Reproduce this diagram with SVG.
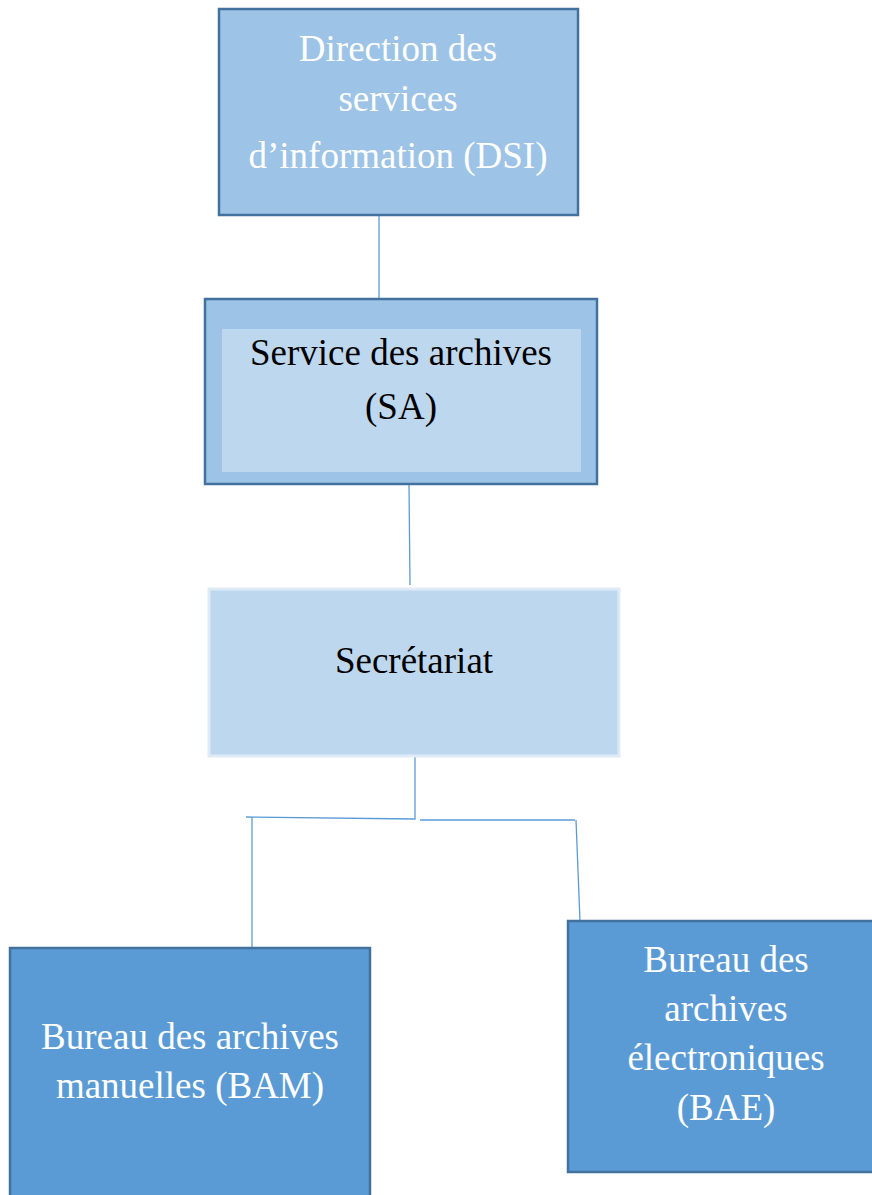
<svg xmlns="http://www.w3.org/2000/svg" width="872" height="1195" viewBox="0 0 872 1195">
<style>
text{font-family:"Liberation Serif","Times New Roman",serif;font-size:37px;text-anchor:middle}
.w{fill:#ffffff}
.k{fill:#000000}
.mid{fill:#9DC3E6;stroke:#41719C;stroke-width:2.5}
.dark{fill:#5B9BD5;stroke:#41719C;stroke-width:2.5}
.light{fill:#BDD7EE;stroke:#DEEBF7;stroke-width:3}
.c{fill:none;stroke:#5B9BD5;stroke-width:1.3}
</style>
<rect width="872" height="1195" fill="#ffffff"/>
<g id="connectors">
<line class="c" x1="379" y1="215" x2="379" y2="299"/>
<line class="c" x1="409" y1="484" x2="410" y2="585"/>
<polyline class="c" points="415,756 415,819 246,817"/>
<line class="c" x1="420" y1="820" x2="575" y2="820"/>
<line class="c" x1="576" y1="820" x2="580" y2="921"/>
<line class="c" x1="252" y1="817" x2="252" y2="948"/>
</g>
<g id="dsi">
<rect class="mid" x="219" y="9" width="359" height="206"/>
<text class="w" x="398" y="61">Direction des</text>
<text class="w" x="398" y="111">services</text>
<text class="w" x="398" y="168">d’information (DSI)</text>
</g>
<g id="sa">
<rect class="mid" x="205" y="299" width="392" height="185"/>
<rect x="222" y="329" width="359" height="143" fill="#BDD7EE"/>
<text class="k" x="401" y="365">Service des archives</text>
<text class="k" x="401" y="419">(SA)</text>
</g>
<g id="secretariat">
<rect class="light" x="209" y="589" width="410" height="167"/>
<text class="k" x="414" y="673">Secrétariat</text>
</g>
<g id="bam">
<rect class="dark" x="10" y="948" width="360" height="260"/>
<text class="w" x="190" y="1049">Bureau des archives</text>
<text class="w" x="190" y="1098">manuelles (BAM)</text>
</g>
<g id="bae">
<rect class="dark" x="568" y="921" width="320" height="251"/>
<text class="w" x="726" y="972">Bureau des</text>
<text class="w" x="726" y="1021">archives</text>
<text class="w" x="726" y="1070">électroniques</text>
<text class="w" x="726" y="1120">(BAE)</text>
</g>
</svg>
